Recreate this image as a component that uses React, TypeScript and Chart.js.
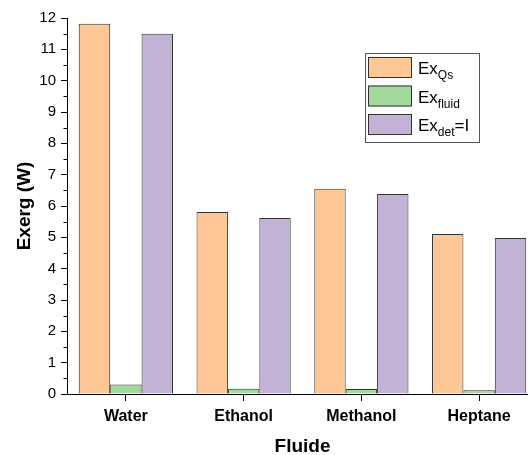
import React, { useEffect, useRef } from "react";
import { Chart, registerables } from "chart.js";

Chart.register(...registerables);

const categories = ["Water", "Ethanol", "Methanol", "Heptane"];
const exQs = [11.82, 5.81, 6.55, 5.11];
const exFluid = [0.3, 0.17, 0.16, 0.12];
const exDet = [11.5, 5.62, 6.38, 4.98];
const legendMain = ["Ex", "Ex", "Ex"];
const legendSub = ["Qs", "fluid", "det"];
const legendSuffix = ["", "", "=I"];
const yTicks = [0, 1, 2, 3, 4, 5, 6, 7, 8, 9, 10, 11, 12];

const colors = ["#FDC895", "#A2DA9E", "#C2B2D6"];
const FONT = "'Liberation Sans', Arial, sans-serif";

const minorTicks = {
  id: "minorTicks",
  afterDraw(chart: any) {
    const ctx = chart.ctx;
    const y = chart.scales.y;
    const left = chart.chartArea.left;
    ctx.save();
    ctx.strokeStyle = "#000";
    ctx.lineWidth = 1;
    for (let i = 0; i < yTicks.length - 1; i++) {
      const v = (yTicks[i] + yTicks[i + 1]) / 2;
      const py = Math.round(y.getPixelForValue(v)) + 0.5;
      ctx.beginPath();
      ctx.moveTo(left - 3.5, py);
      ctx.lineTo(left, py);
      ctx.stroke();
    }
    ctx.restore();
  },
};

const customLegend = {
  id: "customLegend",
  afterDraw(chart: any) {
    const ctx = chart.ctx;
    const bx = 365.5, by = 53.5, bw = 114, bh = 89;
    ctx.save();
    ctx.strokeStyle = "#555";
    ctx.lineWidth = 1;
    ctx.strokeRect(bx, by, bw, bh);
    const ds = chart.data.datasets;
    for (let i = 0; i < legendMain.length; i++) {
      const top = 57 + i * 28.5;
      ctx.fillStyle = ds[i].backgroundColor;
      ctx.fillRect(368, top, 44, 21);
      ctx.strokeStyle = "#333";
      ctx.strokeRect(368.5, top + 0.5, 43, 20);
      ctx.fillStyle = "#000";
      ctx.textBaseline = "alphabetic";
      ctx.textAlign = "left";
      ctx.font = `17px ${FONT}`;
      const base = top + 17;
      let x = 418;
      ctx.fillText(legendMain[i], x, base);
      x += ctx.measureText(legendMain[i]).width;
      ctx.font = `12px ${FONT}`;
      ctx.fillText(legendSub[i], x, base + 5);
      x += ctx.measureText(legendSub[i]).width;
      if (legendSuffix[i]) {
        ctx.font = `17px ${FONT}`;
        ctx.fillText(legendSuffix[i], x, base);
      }
    }
    ctx.restore();
  },
};

export default function App() {
  const ref = useRef<HTMLCanvasElement>(null);
  useEffect(() => {
    document.body.style.margin = "0";
    const chart = new Chart(ref.current!, {
      type: "bar",
      data: {
        labels: categories,
        datasets: [
          { label: "ExQs", data: exQs, backgroundColor: colors[0], borderColor: "#333", borderWidth: 1 },
          { label: "Exfluid", data: exFluid, backgroundColor: colors[1], borderColor: "#333", borderWidth: 1 },
          { label: "Exdet=I", data: exDet, backgroundColor: colors[2], borderColor: "#333", borderWidth: 1 },
        ],
      },
      options: {
        responsive: false,
        animation: false,
        devicePixelRatio: 1,
        layout: { padding: { top: 18, left: 0, right: 0, bottom: 0 } },
        datasets: { bar: { categoryPercentage: 0.8, barPercentage: 1.0 } },
        plugins: { legend: { display: false }, tooltip: { enabled: false } },
        scales: {
          x: {
            grid: { drawOnChartArea: false, drawTicks: true, tickLength: 7, color: "#000", offset: false },
            border: { color: "#000", width: 1 },
            ticks: { color: "#000", font: { family: FONT, size: 16, weight: "bold" }, padding: 6 },
            title: {
              display: true,
              text: "Fluide",
              color: "#000",
              font: { family: FONT, size: 19, weight: "bold", lineHeight: 0.85 },
              padding: { top: 0, bottom: 0 },
            },
            afterFit: (s: any) => { s.height = 61; },
          },
          y: {
            min: 0,
            max: 12,
            afterBuildTicks: (s: any) => { s.ticks = yTicks.map((v) => ({ value: v })); },
            grid: { drawOnChartArea: false, drawTicks: true, tickLength: 6, color: "#000" },
            border: { color: "#000", width: 1 },
            ticks: { color: "#000", font: { family: FONT, size: 15 }, padding: 5 },
            title: {
              display: true,
              text: "Exerg (W)",
              color: "#000",
              font: { family: FONT, size: 19, weight: "bold", lineHeight: 1 },
              padding: { top: 15, bottom: 0 },
            },
            afterFit: (s: any) => { s.width = 67; },
          },
        },
      },
      plugins: [minorTicks, customLegend],
    });
    return () => chart.destroy();
  }, []);
  return (
    <div style={{ width: 528, height: 455, overflow: "hidden" }}>
      <canvas ref={ref} width={538} height={455} style={{ display: "block" }} />
    </div>
  );
}
